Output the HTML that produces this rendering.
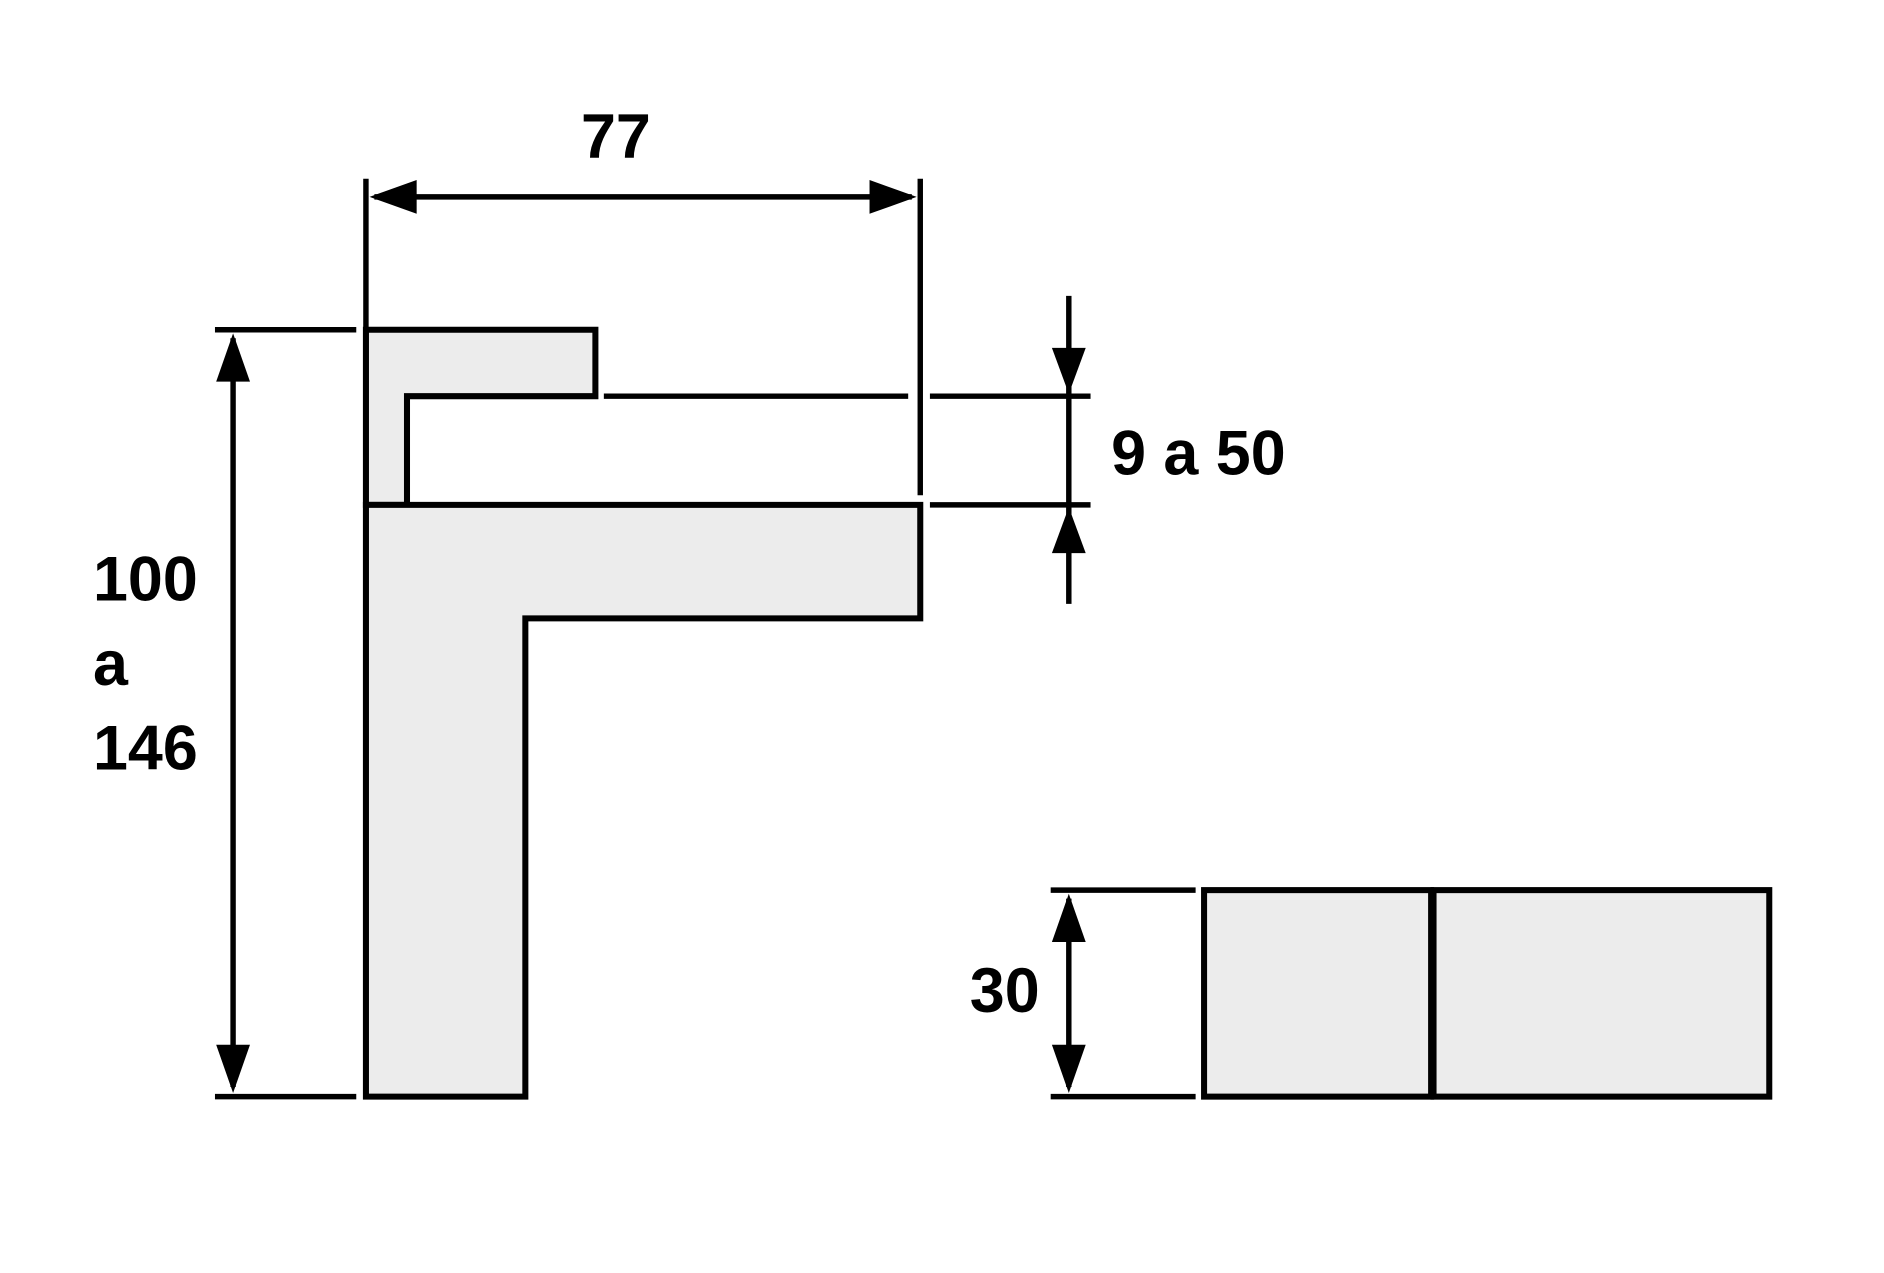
<!DOCTYPE html>
<html><head><meta charset="utf-8"><style>
html,body{margin:0;padding:0;background:#fff;width:1884px;height:1273px;overflow:hidden}
svg{display:block}
text{font-family:"Liberation Sans",sans-serif;font-weight:bold;fill:#000}
</style></head><body>
<svg width="1884" height="1273" viewBox="0 0 1560 1054" xmlns="http://www.w3.org/2000/svg">
<g stroke="#000" stroke-width="5" fill="#ececec" stroke-linejoin="miter">
<path d="M303,273 H493 V328 H337 V418 H303 Z"/>
<path d="M303,418 H762 V512 H435 V908 H303 Z"/>
<rect x="997" y="737" width="188" height="171"/>
<rect x="1187" y="737" width="278" height="171"/>
</g>
<g stroke="#000" stroke-width="4.5" fill="none">
<line x1="303" y1="148" x2="303" y2="910"/>
<line x1="762" y1="148" x2="762" y2="410"/>
<line x1="500" y1="328" x2="752" y2="328"/>
<line x1="770" y1="328" x2="903" y2="328"/>
<line x1="770" y1="418" x2="903" y2="418"/>
<line x1="178" y1="273" x2="295" y2="273"/>
<line x1="178" y1="908" x2="295" y2="908"/>
<line x1="870" y1="737" x2="990" y2="737"/>
<line x1="870" y1="908" x2="990" y2="908"/>
<line x1="310" y1="163" x2="755" y2="163"/>
<line x1="193" y1="280" x2="193" y2="900"/>
<line x1="885" y1="245" x2="885" y2="500"/>
<line x1="885" y1="744" x2="885" y2="900"/>
</g>
<g fill="#000">
<polygon points="306,163 345,149 345,177"/>
<polygon points="759,163 720,149 720,177"/>
<polygon points="193,276 179,316 207,316"/>
<polygon points="193,905 179,865 207,865"/>
<polygon points="885,326 871,288 899,288"/>
<polygon points="885,420 871,458 899,458"/>
<polygon points="885,740 871,780 899,780"/>
<polygon points="885,905 871,865 899,865"/>
</g>
<text x="510" y="131" font-size="52" text-anchor="middle">77</text>
<text x="920" y="393" font-size="52">9 a 50</text>
<text x="77" y="497" font-size="52">100</text>
<text x="77" y="567" font-size="52">a</text>
<text x="77" y="637" font-size="52">146</text>
<text x="803" y="838" font-size="52">30</text>
</svg>
</body></html>
